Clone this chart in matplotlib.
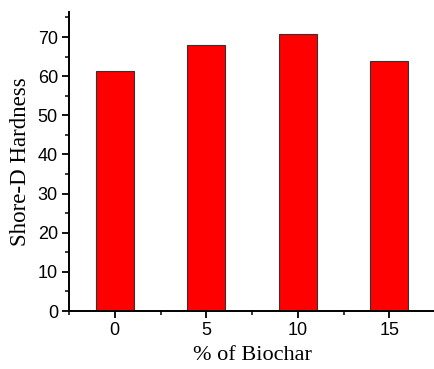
import matplotlib
matplotlib.use('Agg')
import matplotlib.pyplot as plt
from matplotlib.ticker import MultipleLocator

# biochar content (%) and measured hardness
biochar = [0, 5, 10, 15]
hardness = [61.4, 68.0, 70.9, 64.0]

fig = plt.figure(figsize=(4.35, 3.69), dpi=100)
ax = fig.add_axes([69/435, 1 - 311/369, 366/435, 299/369])

ax.bar(biochar, hardness, width=2.05, color='#ff0000', edgecolor='#333333', linewidth=0.8, zorder=2)

ax.set_xlim(-2.5, 17.5)
ax.set_ylim(0, 76.4)
ax.xaxis.set_major_locator(MultipleLocator(5))
ax.xaxis.set_minor_locator(MultipleLocator(2.5))
ax.yaxis.set_major_locator(MultipleLocator(10))
ax.yaxis.set_minor_locator(MultipleLocator(5))

for s in ['top', 'right']:
    ax.spines[s].set_visible(False)
for s in ['left', 'bottom']:
    ax.spines[s].set_linewidth(1.4)
    ax.spines[s].set_zorder(3)

ax.tick_params(which='major', direction='out', length=5, width=1.3, labelsize=13, pad=3)
ax.tick_params(which='minor', direction='out', length=3, width=1.1)
for lab in ax.get_xticklabels() + ax.get_yticklabels():
    lab.set_family('Liberation Sans')

ax.set_xlabel('% of Biochar', family='Liberation Serif', fontsize=16, labelpad=5)
ax.set_ylabel('Shore-D Hardness', family='Liberation Serif', fontsize=16.5, labelpad=5)

fig.savefig('out.png', dpi=100)
